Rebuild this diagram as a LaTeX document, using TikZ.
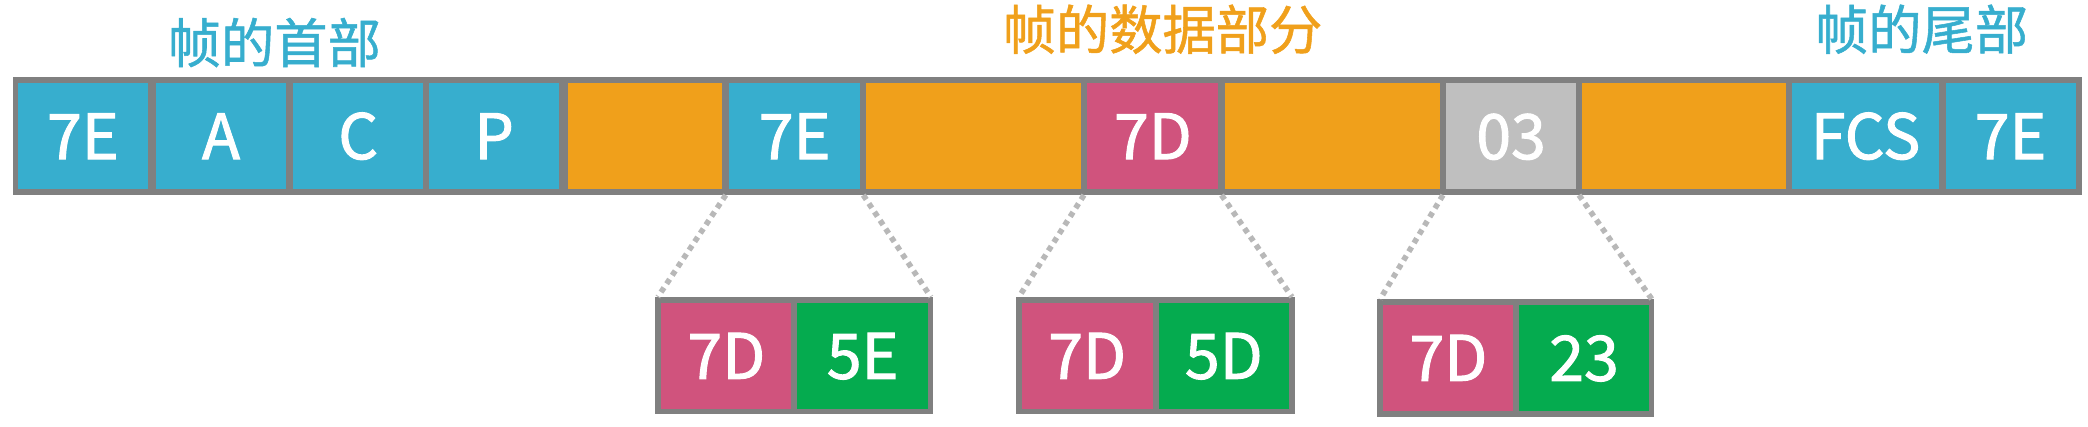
\documentclass[tikz,border=0pt]{standalone}
\usepackage{fontspec}
\setmainfont{Noto Sans CJK SC}
\newfontfamily\lblfont{Noto Sans CJK SC}[FakeBold=1.6]
\newfontfamily\ttlfont{Noto Sans CJK SC}[FakeBold=1.0]
\usetikzlibrary{calc}
\definecolor{cblue}{HTML}{37AECE}
\definecolor{corange}{HTML}{F0A01B}
\definecolor{cpink}{HTML}{D0537D}
\definecolor{cgray}{HTML}{BFBFBF}
\definecolor{cgreen}{HTML}{05AB4F}
\definecolor{bordergray}{HTML}{808080}
\definecolor{dotgray}{HTML}{B8B8B8}
\begin{document}
\begin{tikzpicture}[x=0.5pt,y=-0.5pt,
  cell/.style={inner sep=0pt, outer sep=0pt, minimum height=39.7pt, text=white,
    font=\lblfont\fontsize{23.5}{28}\selectfont, text height=17.2pt, text depth=0pt},
  frame/.style={fill=bordergray, inner sep=0pt, outer sep=0pt},
  title/.style={font=\ttlfont\fontsize{20}{24}\selectfont, inner sep=0pt, text height=16.6pt, text depth=1.4pt},
  zoomline/.style={draw=dotgray, line width=2.1pt, dash pattern=on 2pt off 1.8pt}]
\useasboundingbox (0,0) rectangle (1568,320);
% titles
\node[title, text=cblue] (t1) at (206,32) {帧的首部};
\node[title, text=corange] (t2) at (873,22) {帧的数据部分};
\node[title, text=cblue] (t3) at (1443,22) {帧的尾部};
% main bar
\node[frame, minimum width=776.75pt, minimum height=44.25pt] (bar) at (786.75,102.25) {};
\node[cell, fill=cblue,   minimum width=48.75pt] (c1)  at (62.25,102.3)  {7E};
\node[cell, fill=cblue,   minimum width=49pt]    (c2)  at (166,102.3)    {A};
\node[cell, fill=cblue,   minimum width=49pt]    (c3)  at (269,102.3)    {C};
\node[cell, fill=cblue,   minimum width=49pt]    (c4)  at (371,102.3)    {P};
\node[cell, fill=corange, minimum width=58pt]    (c5)  at (484.5,102.3)  {};
\node[cell, fill=cblue,   minimum width=49.25pt] (c6)  at (596.75,102.3) {7E};
\node[cell, fill=corange, minimum width=80.45pt] (c7)  at (731.05,102.3) {};
\node[cell, fill=cpink,   minimum width=49.25pt] (c8)  at (865.75,102.3) {7D};
\node[cell, fill=corange, minimum width=80.8pt]  (c9)  at (1000.4,102.3) {};
\node[cell, fill=cgray,   minimum width=48.75pt] (c10) at (1134.75,102.3) {03};
\node[cell, fill=corange, minimum width=76.5pt]  (c11) at (1264.5,102.3) {};
\node[cell, fill=cblue,   minimum width=55.1pt]  (c12) at (1400.9,102.3) {FCS};
\node[cell, fill=cblue,   minimum width=48.8pt]  (c13) at (1509.8,102.3) {7E};
% lower boxes
\node[frame, minimum width=104.5pt, minimum height=44.1pt] (b1) at (596.5,267.1) {};
\node[cell, fill=cpink,  minimum width=48.85pt, minimum height=39.95pt] (p1) at (545.45,267.25) {7D};
\node[cell, fill=cgreen, minimum width=49.2pt,  minimum height=39.95pt] (q1) at (647.8,267.25) {5E};
\node[frame, minimum width=104.55pt, minimum height=44.1pt] (b2) at (867.65,267.1) {};
\node[cell, fill=cpink,  minimum width=49.05pt, minimum height=39.95pt] (p2) at (816.45,267.25) {7D};
\node[cell, fill=cgreen, minimum width=48.85pt, minimum height=39.95pt] (q2) at (919.05,267.25) {5D};
\node[frame, minimum width=104pt, minimum height=44.15pt] (b3) at (1138.4,268.75) {};
\node[cell, fill=cpink,  minimum width=48.8pt,  minimum height=39.85pt] (p3) at (1087.7,268.75) {7D};
\node[cell, fill=cgreen, minimum width=48.85pt, minimum height=39.85pt] (q3) at (1189.55,268.75) {23};
% gap coordinates
\coordinate (g1) at ($(c5.east)!0.5!(c6.west)$);
\coordinate (g2) at ($(c6.east)!0.5!(c7.west)$);
\coordinate (g3) at ($(c7.east)!0.5!(c8.west)$);
\coordinate (g4) at ($(c8.east)!0.5!(c9.west)$);
\coordinate (g5) at ($(c9.east)!0.5!(c10.west)$);
\coordinate (g6) at ($(c10.east)!0.5!(c11.west)$);
% zoom lines
\draw[zoomline] (g1 |- bar.south) -- ($(b1.north west)+(2,0)$);
\draw[zoomline] (g2 |- bar.south) -- ($(b1.north east)+(-2,0)$);
\draw[zoomline] (g3 |- bar.south) -- ($(b2.north west)+(2,0)$);
\draw[zoomline] (g4 |- bar.south) -- ($(b2.north east)+(-2,0)$);
\draw[zoomline] (g5 |- bar.south) -- ($(b3.north west)+(2,0)$);
\draw[zoomline] (g6 |- bar.south) -- ($(b3.north east)+(-2,0)$);
\end{tikzpicture}
\end{document}
